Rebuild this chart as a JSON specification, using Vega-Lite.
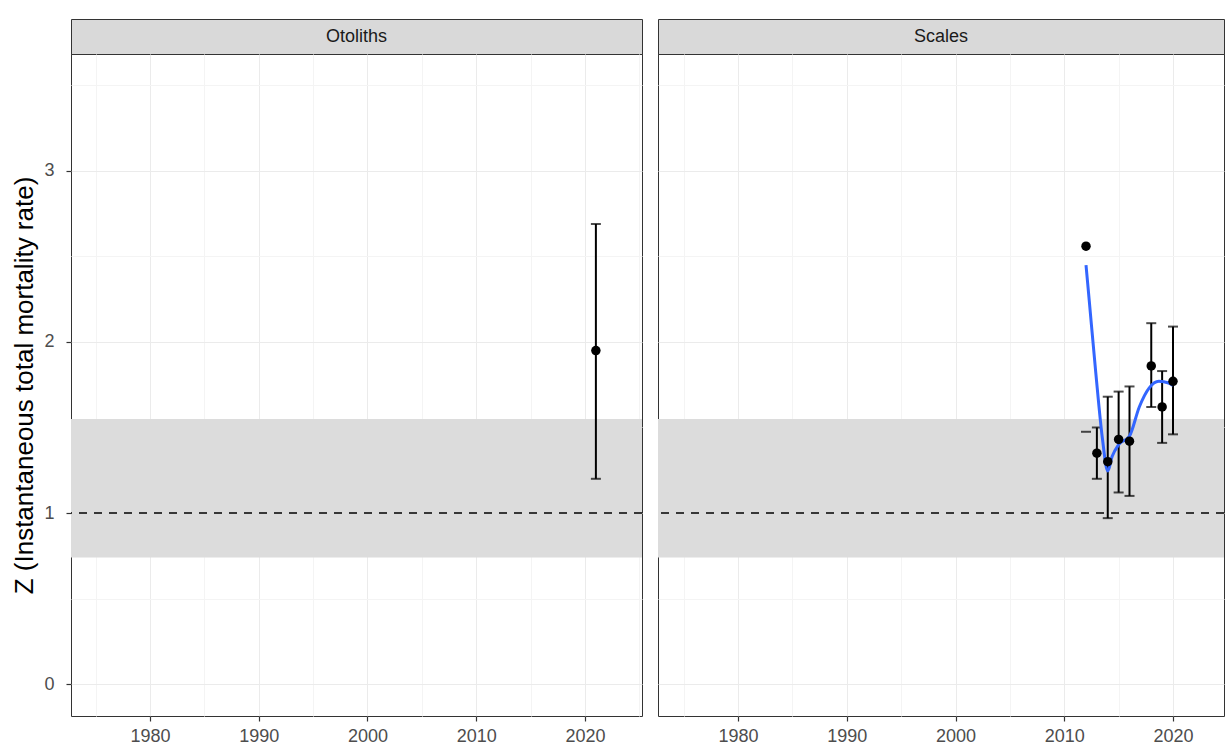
{
  "$schema": "https://vega.github.io/schema/vega-lite/v6.json",
  "padding": {"left": 11, "top": 18, "right": 0, "bottom": 0},
  "background": "white",
  "datasets": {
    "pts": [
      {"panel": "Otoliths", "year": 2021, "z": 1.95, "lo": 1.20, "hi": 2.69},
      {"panel": "Scales", "year": 2012, "z": 2.56, "lo": 1.475, "hi": null},
      {"panel": "Scales", "year": 2013, "z": 1.35, "lo": 1.20, "hi": 1.50},
      {"panel": "Scales", "year": 2014, "z": 1.30, "lo": 0.97, "hi": 1.68},
      {"panel": "Scales", "year": 2015, "z": 1.43, "lo": 1.12, "hi": 1.71},
      {"panel": "Scales", "year": 2016, "z": 1.42, "lo": 1.10, "hi": 1.74},
      {"panel": "Scales", "year": 2018, "z": 1.86, "lo": 1.62, "hi": 2.11},
      {"panel": "Scales", "year": 2019, "z": 1.62, "lo": 1.41, "hi": 1.83},
      {"panel": "Scales", "year": 2020, "z": 1.77, "lo": 1.46, "hi": 2.09}
    ],
    "fit": [
      {"year": 2012.0, "z": 2.45},
      {"year": 2012.3, "z": 2.24},
      {"year": 2012.9, "z": 1.82},
      {"year": 2013.5, "z": 1.44},
      {"year": 2014.0, "z": 1.245},
      {"year": 2014.4, "z": 1.33},
      {"year": 2015.0, "z": 1.40},
      {"year": 2016.0, "z": 1.45},
      {"year": 2016.9, "z": 1.62},
      {"year": 2017.8, "z": 1.73},
      {"year": 2018.7, "z": 1.77},
      {"year": 2019.6, "z": 1.76},
      {"year": 2020.0, "z": 1.745}
    ],
    "band": [{"lo": 0.74, "hi": 1.55}],
    "ref": [{"z": 1}],
    "stripO": [{"panel": "Otoliths"}],
    "stripS": [{"panel": "Scales"}]
  },
  "hconcat": [
    {
      "spacing": 0,
      "bounds": "flush",
      "vconcat": [
        {
          "width": 571, "height": 35,
          "data": {"name": "stripO"},
          "mark": {"type": "text", "fontSize": 18, "color": "#1a1a1a", "font": "Liberation Sans"},
          "encoding": {"text": {"field": "panel"}},
          "view": {"fill": "#d9d9d9", "stroke": "#333333"}
        },
        {
          "width": 571, "height": 662,
          "view": {"stroke": "#333333"},
          "layer": [
            {
              "data": {"name": "band"},
              "mark": {"type": "rect", "color": "#dcdcdc"},
              "encoding": {
                "y": {"field": "lo", "type": "quantitative", "scale": {"domain": [-0.187, 3.684], "nice": false, "zero": false},
                  "axis": {"values": [0, 0.5, 1, 1.5, 2, 2.5, 3, 3.5], "format": "~g", "title": "Z (Instantaneous total mortality rate)",
                    "labelExpr": "datum.value % 1 === 0 ? datum.label : ''",
                    "gridColor": {"condition": {"test": "datum.value % 1 === 0", "value": "#ebebeb"}, "value": "#f4f4f4"},
                    "tickOpacity": {"condition": {"test": "datum.value % 1 === 0", "value": 1}, "value": 0}}},
                "y2": {"field": "hi"}
              }
            },
            {
              "data": {"name": "pts"},
              "transform": [{"filter": "datum.panel === 'Otoliths'"}],
              "mark": {"type": "rule", "color": "black", "strokeWidth": 2},
              "encoding": {
                "x": {"field": "year", "type": "quantitative", "scale": {"domain": [1972.74, 2025.24], "nice": false, "zero": false},
                  "axis": {"values": [1975, 1980, 1985, 1990, 1995, 2000, 2005, 2010, 2015, 2020, 2025], "format": "d", "title": null,
                    "labelExpr": "datum.value % 10 === 0 ? datum.label : ''",
                    "gridColor": {"condition": {"test": "datum.value % 10 === 0", "value": "#ebebeb"}, "value": "#f4f4f4"},
                    "tickOpacity": {"condition": {"test": "datum.value % 10 === 0", "value": 1}, "value": 0}}},
                "y": {"field": "lo", "type": "quantitative"},
                "y2": {"field": "hi"}
              }
            },
            {
              "data": {"name": "pts"},
              "transform": [{"filter": "datum.panel === 'Otoliths'"}],
              "mark": {"type": "tick", "orient": "horizontal", "color": "black", "size": 10, "thickness": 2},
              "encoding": {"x": {"field": "year", "type": "quantitative"}, "y": {"field": "lo", "type": "quantitative"}}
            },
            {
              "data": {"name": "pts"},
              "transform": [{"filter": "datum.panel === 'Otoliths'"}],
              "mark": {"type": "tick", "orient": "horizontal", "color": "black", "size": 10, "thickness": 2},
              "encoding": {"x": {"field": "year", "type": "quantitative"}, "y": {"field": "hi", "type": "quantitative"}}
            },
            {
              "data": {"name": "ref"},
              "mark": {"type": "rule", "color": "black", "strokeWidth": 1.6, "strokeDash": [8, 7]},
              "encoding": {"y": {"field": "z", "type": "quantitative"}}
            },
            {
              "data": {"name": "pts"},
              "transform": [{"filter": "datum.panel === 'Otoliths'"}],
              "mark": {"type": "circle", "color": "black", "opacity": 1, "size": 90},
              "encoding": {"x": {"field": "year", "type": "quantitative"}, "y": {"field": "z", "type": "quantitative"}}
            }
          ]
        }
      ]
    },
    {
      "spacing": 0,
      "bounds": "flush",
      "vconcat": [
        {
          "width": 566, "height": 35,
          "data": {"name": "stripS"},
          "mark": {"type": "text", "fontSize": 18, "color": "#1a1a1a", "font": "Liberation Sans"},
          "encoding": {"text": {"field": "panel"}},
          "view": {"fill": "#d9d9d9", "stroke": "#333333"}
        },
        {
          "width": 566, "height": 662,
          "view": {"stroke": "#333333"},
          "layer": [
            {
              "data": {"name": "band"},
              "mark": {"type": "rect", "color": "#dcdcdc"},
              "encoding": {
                "y": {"field": "lo", "type": "quantitative", "scale": {"domain": [-0.187, 3.684], "nice": false, "zero": false},
                  "axis": {"values": [0, 0.5, 1, 1.5, 2, 2.5, 3, 3.5], "title": null, "labels": false, "ticks": false,
                    "gridColor": {"condition": {"test": "datum.value % 1 === 0", "value": "#ebebeb"}, "value": "#f4f4f4"}}},
                "y2": {"field": "hi"}
              }
            },
            {
              "data": {"name": "pts"},
              "transform": [{"filter": "datum.panel === 'Scales' && datum.hi != null"}],
              "mark": {"type": "rule", "color": "black", "strokeWidth": 2},
              "encoding": {
                "x": {"field": "year", "type": "quantitative", "scale": {"domain": [1972.64, 2024.69], "nice": false, "zero": false},
                  "axis": {"values": [1975, 1980, 1985, 1990, 1995, 2000, 2005, 2010, 2015, 2020], "format": "d", "title": null,
                    "labelExpr": "datum.value % 10 === 0 ? datum.label : ''",
                    "gridColor": {"condition": {"test": "datum.value % 10 === 0", "value": "#ebebeb"}, "value": "#f4f4f4"},
                    "tickOpacity": {"condition": {"test": "datum.value % 10 === 0", "value": 1}, "value": 0}}},
                "y": {"field": "lo", "type": "quantitative"},
                "y2": {"field": "hi"}
              }
            },
            {
              "data": {"name": "pts"},
              "transform": [{"filter": "datum.panel === 'Scales'"}],
              "mark": {"type": "tick", "orient": "horizontal", "color": "black", "size": 10, "thickness": 2},
              "encoding": {"x": {"field": "year", "type": "quantitative"}, "y": {"field": "lo", "type": "quantitative"}}
            },
            {
              "data": {"name": "pts"},
              "transform": [{"filter": "datum.panel === 'Scales' && datum.hi != null"}],
              "mark": {"type": "tick", "orient": "horizontal", "color": "black", "size": 10, "thickness": 2},
              "encoding": {"x": {"field": "year", "type": "quantitative"}, "y": {"field": "hi", "type": "quantitative"}}
            },
            {
              "data": {"name": "ref"},
              "mark": {"type": "rule", "color": "black", "strokeWidth": 1.6, "strokeDash": [8, 7]},
              "encoding": {"y": {"field": "z", "type": "quantitative"}}
            },
            {
              "data": {"name": "fit"},
              "mark": {"type": "line", "color": "#3366FF", "strokeWidth": 3, "interpolate": "monotone"},
              "encoding": {"x": {"field": "year", "type": "quantitative"}, "y": {"field": "z", "type": "quantitative"}}
            },
            {
              "data": {"name": "pts"},
              "transform": [{"filter": "datum.panel === 'Scales'"}],
              "mark": {"type": "circle", "color": "black", "opacity": 1, "size": 90},
              "encoding": {"x": {"field": "year", "type": "quantitative"}, "y": {"field": "z", "type": "quantitative"}}
            }
          ]
        }
      ]
    }
  ],
  "spacing": 12,
  "config": {
    "font": "Liberation Sans",
    "view": {"stroke": "#333333", "strokeWidth": 1},
    "axis": {
      "domain": false,
      "tickColor": "#333333",
      "tickSize": 5,
      "tickWidth": 1.2,
      "labelColor": "#4d4d4d",
      "labelFontSize": 18,
      "labelFont": "Liberation Sans",
      "labelPadding": 6,
      "gridWidth": 1,
      "titleFont": "Liberation Sans",
      "titleFontSize": 26,
      "titleFontWeight": "normal",
      "titleColor": "#000000",
      "titlePadding": 6
    },
    "axisY": {"labelPadding": 12}
  }
}
